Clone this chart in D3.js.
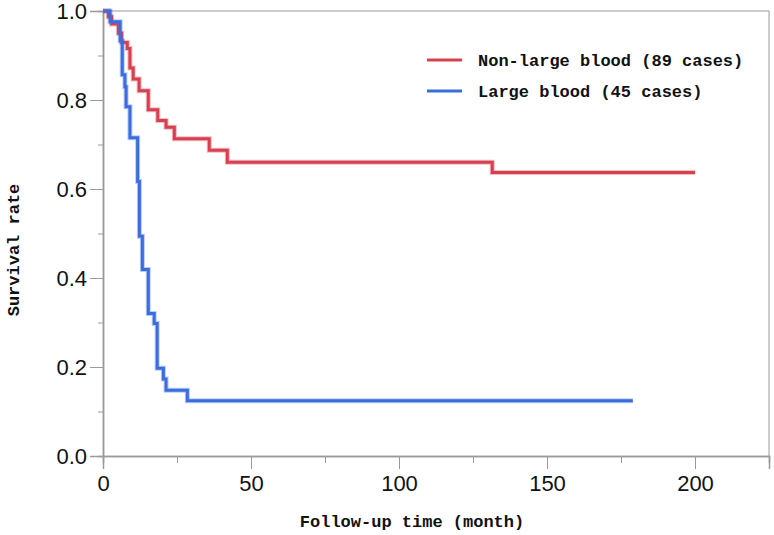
<!DOCTYPE html>
<html>
<head>
<meta charset="utf-8">
<script src="https://cdn.jsdelivr.net/npm/d3@7"></script>
<style>
  body { margin: 0; background: #fff; }
  .tick text { font-family: "Liberation Sans", Arial, sans-serif; font-size: 22px; fill: #111; }
  .tick line, .domain { stroke: #9a9a9a; }
  .title { font-family: "Liberation Mono", monospace; font-size: 17px; font-weight: bold; fill: #111; }
</style>
</head>
<body>
<svg width="774" height="535"></svg>
<script>
// Kaplan-Meier steps: [month, survival]
const nonLarge = [[0, 1], [1.8, 0.987], [2.9, 0.971], [5.2, 0.95], [6.3, 0.929], [8.2, 0.916],
  [9.1, 0.872], [10.2, 0.847], [12.2, 0.821], [15.3, 0.778], [18.5, 0.754], [21.3, 0.739],
  [24.1, 0.713], [35.9, 0.687], [42, 0.66], [131.5, 0.637], [200, 0.637]];
const large = [[0, 1], [2.4, 0.976], [5.8, 0.933], [6.5, 0.857], [7.4, 0.83], [7.8, 0.785],
  [9.1, 0.715], [11.7, 0.617], [12.3, 0.494], [13.3, 0.419], [15.3, 0.32], [17.3, 0.298],
  [18.3, 0.197], [20.4, 0.173], [21.3, 0.148], [28.5, 0.124], [179, 0.124]];
const seriesNames = ["Non-large blood (89 cases)", "Large blood (45 cases)"];
const xMajor = [0, 50, 100, 150, 200];
const xMinor = [25, 75, 125, 175, 225];
const yMajor = [0, 0.2, 0.4, 0.6, 0.8, 1.0];
const yMinor = [0.1, 0.3, 0.5, 0.7, 0.9];

const svg = d3.select("svg");
const colors = ["#d8404f", "#3b6ddf"];

const x = d3.scaleLinear().domain([0, 225]).range([103, 769]);
const y = d3.scaleLinear().domain([0, 1]).range([456, 11]);

// frame
svg.append("path")
  .attr("d", `M${x(0)},${y(1)}H${x(225)}V${y(0)}`)
  .attr("fill", "none")
  .attr("stroke", "#9a9a9a");

svg.append("g")
  .attr("transform", `translate(0,${y(0)})`)
  .call(d3.axisBottom(x).tickValues(xMinor).tickSize(7).tickFormat(""));
svg.append("g")
  .attr("transform", `translate(0,${y(0)})`)
  .call(d3.axisBottom(x).tickValues(xMajor).tickSize(13).tickPadding(6));

svg.append("g")
  .attr("transform", `translate(${x(0)},0)`)
  .call(d3.axisLeft(y).tickValues(yMinor).tickSize(5).tickFormat(""));
svg.append("g")
  .attr("transform", `translate(${x(0)},0)`)
  .call(d3.axisLeft(y).tickValues(yMajor).tickSize(13).tickPadding(3)
    .tickFormat(d3.format(".1f")));

svg.selectAll(".domain").attr("stroke-width", 1.5);

const line = d3.line()
  .x(d => x(d[0]))
  .y(d => y(d[1]))
  .curve(d3.curveStepAfter);

[nonLarge, large].forEach((data, i) => {
  svg.append("path")
    .datum(data)
    .attr("d", line)
    .attr("fill", "none")
    .attr("stroke", colors[i])
    .attr("stroke-opacity", 0.35)
    .attr("stroke-width", 5);
  svg.append("path")
    .datum(data)
    .attr("d", line)
    .attr("fill", "none")
    .attr("stroke", colors[i])
    .attr("stroke-width", 3);
});

// legend
const legend = svg.selectAll("g.legend")
  .data(seriesNames)
  .enter()
  .append("g")
  .attr("class", "legend")
  .attr("transform", (d, i) => `translate(427, ${60 + i * 31})`);

legend.append("line")
  .attr("x1", 0).attr("x2", 35)
  .attr("stroke", (d, i) => colors[i])
  .attr("stroke-width", 3);

legend.append("text")
  .attr("class", "title")
  .attr("x", 51)
  .attr("y", 6)
  .text(d => d);

svg.append("text")
  .attr("class", "title")
  .attr("x", 412)
  .attr("y", 527)
  .attr("text-anchor", "middle")
  .text("Follow-up time (month)");

svg.append("text")
  .attr("class", "title")
  .attr("transform", "translate(19,250) rotate(-90)")
  .attr("text-anchor", "middle")
  .text("Survival rate");
</script>
</body>
</html>
